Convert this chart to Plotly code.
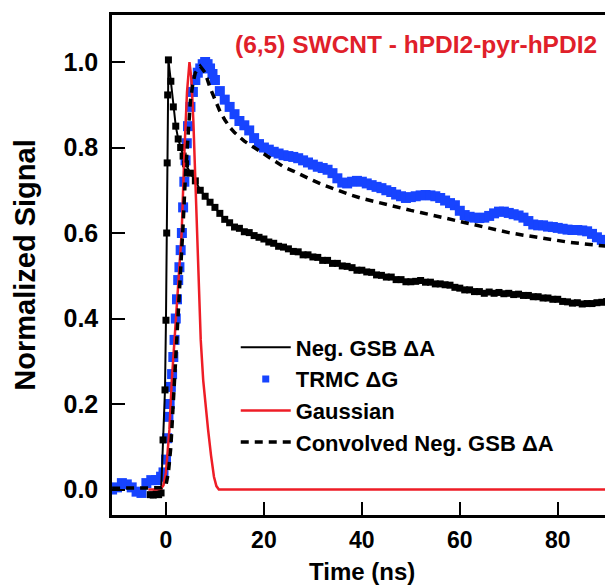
import plotly.graph_objects as go

# ---------------- data ----------------
gsb_t = [-3.2, -2.6, -2.0, -1.5, -1.0, -0.6, -0.2, 0.0, 0.15, 0.25, 0.35, 0.5, 1.0, 1.5, 2.0, 2.5, 3.0,
         3.5, 4.0, 5.0, 6.0, 7.0, 8.0, 9.0, 10, 11, 12, 13, 14, 15, 16, 17, 18, 19, 20, 21, 22, 23, 24,
         25, 26, 27, 28, 29, 30, 31, 32, 33, 34, 35, 36, 37, 38, 39, 40, 41, 42, 43, 44, 45, 46, 47, 48,
         49, 50, 51, 52, 53, 54, 55, 56, 57, 58, 59, 60, 61, 62, 63, 64, 65, 66, 67, 68, 69, 70, 71, 72,
         73, 74, 75, 76, 77, 78, 79, 80, 81, 82, 83, 84, 85, 86, 87, 88, 89, 90]
gsb_v = [-0.012, -0.013, -0.010, -0.012, -0.008, 0.116, 0.233, 0.396, 0.60, 0.764, 0.923, 1.005, 0.955, 0.895,
         0.85, 0.82, 0.80, 0.78, 0.762, 0.74, 0.722, 0.70, 0.686, 0.672, 0.660, 0.646, 0.632, 0.624, 0.614,
         0.611, 0.603, 0.601, 0.594, 0.590, 0.586, 0.579, 0.576, 0.569, 0.567, 0.563, 0.557, 0.556, 0.549,
         0.549, 0.544, 0.543, 0.536, 0.536, 0.529, 0.529, 0.523, 0.522, 0.519, 0.513, 0.513, 0.509, 0.508,
         0.502, 0.501, 0.497, 0.497, 0.491, 0.491, 0.486, 0.486, 0.487, 0.489, 0.485, 0.485, 0.481, 0.481,
         0.479, 0.478, 0.473, 0.471, 0.467, 0.467, 0.463, 0.463, 0.459, 0.462, 0.459, 0.461, 0.458, 0.459,
         0.456, 0.457, 0.454, 0.454, 0.451, 0.451, 0.448, 0.448, 0.445, 0.445, 0.440, 0.439, 0.436, 0.437,
         0.434, 0.435, 0.435, 0.437, 0.438, 0.440]

trmc_t = [-11, -10, -9, -8, -7, -6, -5, -4, -3, -2, -1, -0.5, 0.0, 0.25, 0.5, 0.75, 1.0, 1.25, 1.5, 1.75,
          2.0, 2.25, 2.5, 2.75, 3.0, 3.25, 3.5, 3.75, 4.0, 4.25, 4.5, 5.0, 5.5, 6.0, 6.5, 7.0, 7.5, 8.0,
          8.5, 9.0, 9.5, 10, 11, 12, 13, 14, 15, 16, 17, 18, 19, 20,
          21, 22, 23, 24, 25, 26, 27, 28, 29, 30, 31, 32, 33, 34, 35, 36, 37, 38, 39, 40, 41, 42, 43, 44,
          45, 46, 47, 48, 49, 50, 51, 52, 53, 54, 55, 56, 57, 58, 59, 60, 61, 62, 63, 64, 65, 66, 67, 68,
          69, 70, 71, 72, 73, 74, 75, 76, 77, 78, 79, 80, 81, 82, 83, 84, 85, 86, 87, 88, 89, 90]
trmc_v = [0.000, 0.005, 0.015, 0.012, 0.005, -0.005, -0.008, 0.015, 0.022, 0.022, 0.030, 0.040, 0.07, 0.12,
          0.17, 0.20, 0.24, 0.27, 0.31, 0.35, 0.40, 0.445, 0.49, 0.52, 0.56, 0.60, 0.66, 0.72, 0.77, 0.81,
          0.85, 0.895, 0.93, 0.958, 0.975, 0.985, 0.995, 1.000,
          0.995, 0.985, 0.972, 0.958, 0.932, 0.912, 0.895, 0.878, 0.862, 0.852, 0.840, 0.822, 0.808, 0.800,
          0.795, 0.790, 0.786, 0.782, 0.780, 0.778, 0.775, 0.770, 0.765, 0.760, 0.755, 0.752, 0.748, 0.740,
          0.728, 0.718, 0.716, 0.720, 0.722, 0.720, 0.716, 0.712, 0.708, 0.705, 0.700, 0.696, 0.690, 0.686,
          0.682, 0.684, 0.686, 0.688, 0.689, 0.688, 0.686, 0.682, 0.676, 0.670, 0.665, 0.652, 0.642, 0.638,
          0.636, 0.635, 0.636, 0.640, 0.646, 0.650, 0.650, 0.647, 0.644, 0.641, 0.636, 0.628, 0.620, 0.618,
          0.618, 0.615, 0.614, 0.612, 0.610, 0.608, 0.607, 0.607, 0.606, 0.604, 0.598, 0.590, 0.584, 0.580]

gauss_t = [-3.6, -2.0, -1.0, -0.5, 0.0, 0.7, 1.2, 2.2, 3.2, 3.8, 4.3, 4.8, 5.2, 5.6, 6.0, 6.3, 6.7, 7.1,
           7.6, 8.1, 8.6, 9.2, 9.8, 10.3, 10.8, 20, 40, 60, 80, 90]
gauss_v = [0.0, 0.0, 0.002, 0.01, 0.04, 0.14, 0.256, 0.42, 0.60, 0.80, 0.93, 1.0, 0.96, 0.86, 0.72, 0.61,
           0.47, 0.35, 0.256, 0.19, 0.14, 0.08, 0.03, 0.008, 0.0, 0.0, 0.0, 0.0, 0.0, 0.0]

conv_t = [-11, -8, -5, -2, -1, 0.0, 0.5, 1.0, 1.5, 2.0, 2.5, 3.0, 3.5, 4.0, 4.5, 5.0, 5.5, 6.0, 7.0, 8.0,
          9.0, 10, 11, 12, 13, 14, 15, 16, 18, 20, 22, 24, 26, 28, 30, 32, 34, 36, 38, 40, 42, 44, 46, 48,
          50, 52, 55, 58, 61, 64, 67, 70, 73, 76, 79, 82, 85, 88, 90]
conv_v = [0.003, 0.003, 0.003, 0.003, 0.004, 0.01, 0.04, 0.10, 0.20, 0.30, 0.40, 0.50, 0.62, 0.74, 0.84,
          0.91, 0.95, 0.975, 0.99, 0.975, 0.94, 0.91, 0.885, 0.865, 0.848, 0.835, 0.825, 0.815, 0.800,
          0.785, 0.770, 0.755, 0.745, 0.733, 0.723, 0.713, 0.704, 0.696, 0.688, 0.681, 0.675, 0.669, 0.664,
          0.658, 0.653, 0.648, 0.640, 0.632, 0.624, 0.616, 0.608, 0.601, 0.595, 0.589, 0.584, 0.579, 0.575,
          0.571, 0.569]

x_ticks = [0, 20, 40, 60, 80]
y_ticks = [0.0, 0.2, 0.4, 0.6, 0.8, 1.0]
y_tick_text = ["0.0", "0.2", "0.4", "0.6", "0.8", "1.0"]

title_text = "(6,5) SWCNT - hPDI2-pyr-hPDI2"
x_title = "Time (ns)"
y_title = "Normalized Signal"
names = ["Neg. GSB ΔA", "TRMC ΔG", "Gaussian", "Convolved Neg. GSB ΔA"]

FONT = "Liberation Sans, Arial, sans-serif"
BLUE = "#1744ff"
RED = "#ee1d26"

fig = go.Figure()

# TRMC (blue squares) drawn first so it sits under the others
fig.add_trace(go.Scatter(x=trmc_t, y=trmc_v, mode="markers", showlegend=False,
                         marker=dict(symbol="square", size=10, color=BLUE, line=dict(width=0))))
# legend entry for TRMC with the small square seen in the reference legend
fig.add_trace(go.Scatter(x=[None], y=[None], mode="markers", name=names[1],
                         marker=dict(symbol="square", size=7, color=BLUE, line=dict(width=0)),
                         legendrank=2))
# Neg. GSB markers (not in legend)
fig.add_trace(go.Scatter(x=gsb_t, y=gsb_v, mode="markers", showlegend=False,
                         marker=dict(symbol="square", size=7, color="black", line=dict(width=0))))
# Neg. GSB line
fig.add_trace(go.Scatter(x=gsb_t, y=gsb_v, mode="lines", name=names[0],
                         line=dict(color="black", width=2), legendrank=1))
# Gaussian
fig.add_trace(go.Scatter(x=gauss_t, y=gauss_v, mode="lines", name=names[2],
                         line=dict(color=RED, width=2.5), legendrank=3))
# Convolved
fig.add_trace(go.Scatter(x=conv_t, y=conv_v, mode="lines", name=names[3],
                         line=dict(color="black", width=3.5, dash="8px,6px"), legendrank=4))

fig.add_annotation(text="<b>" + title_text + "</b>", xref="paper", yref="paper",
                   x=0.988, y=0.942, xanchor="right", yanchor="middle", showarrow=False,
                   font=dict(family=FONT, size=24.5, color="#e0202a"))
# x-axis title placed as in the reference (tight under the tick labels)
fig.add_annotation(text="<b>" + x_title + "</b>", xref="paper", yref="paper",
                   x=0.507, y=-0.113, xanchor="center", yanchor="middle", showarrow=False,
                   font=dict(family=FONT, size=24, color="black"))

fig.update_layout(
    width=605, height=587,
    margin=dict(l=112, r=0, t=15, b=72),
    paper_bgcolor="white", plot_bgcolor="white",
    font=dict(family=FONT, color="black"),
    showlegend=True,
    legend=dict(x=0.251, y=0.377, xanchor="left", yanchor="top",
                bgcolor="rgba(0,0,0,0)", borderwidth=0,
                font=dict(family=FONT, size=22, color="black", weight="bold"),
                itemwidth=50, tracegroupgap=0),
    xaxis=dict(range=[-11.02, 89.65], tickvals=x_ticks, ticks="inside", ticklen=13, tickwidth=2,
               tickcolor="black", showline=True, linecolor="black", linewidth=2.5, mirror=True,
               showgrid=False, zeroline=False,
               tickfont=dict(family=FONT, size=23, color="black", weight="bold"),
               ticklabelstandoff=3),
    yaxis=dict(range=[-0.0596, 1.110], tickvals=y_ticks, ticktext=y_tick_text, ticks="inside",
               ticklen=13, tickwidth=2, tickcolor="black", showline=True, linecolor="black",
               linewidth=2.5, mirror=False, showgrid=False, zeroline=False,
               tickfont=dict(family=FONT, size=25, color="black", weight="bold"),
               ticklabelstandoff=6,
               title=dict(text="<b>" + y_title + "</b>", font=dict(family=FONT, size=29, color="black"),
                          standoff=20)),
)

fig.write_html("out.html")
